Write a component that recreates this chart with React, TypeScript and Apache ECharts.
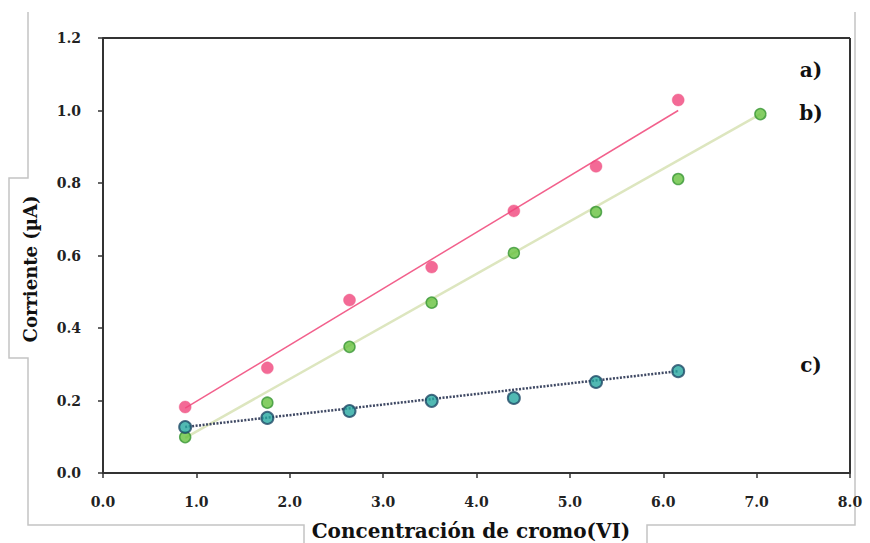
import React, { useEffect, useRef } from "react";
import * as echarts from "echarts";

const xValues = [0.88, 1.76, 2.64, 3.52, 4.4, 5.28, 6.16];
const xValuesB = [0.88, 1.76, 2.64, 3.52, 4.4, 5.28, 6.16, 7.04];
const seriesA = [0.182, 0.29, 0.477, 0.568, 0.723, 0.846, 1.029];
const seriesB = [0.099, 0.194, 0.348, 0.47, 0.607, 0.72, 0.811, 0.99];
const seriesC = [0.127, 0.152, 0.171, 0.199, 0.207, 0.251, 0.281];
// trend line end points
const trendA = [[0.88, 0.179], [6.16, 1.0]];
const trendB = [[0.88, 0.097], [7.04, 0.99]];
const trendC = [[0.88, 0.127], [6.16, 0.281]];
const seriesLabels = ["a)", "b)", "c)"];
const xTitle = "Concentración de cromo(VI)";
const yTitle = "Corriente (µA)";

const FONT = "'DejaVu Serif', serif";

export default function App() {
  const ref = useRef<HTMLDivElement>(null);
  useEffect(() => {
    if (!ref.current) return;
    const chart = echarts.init(ref.current, null, { renderer: "svg" });
    const pair = (xs: number[], ys: number[]) => xs.map((x, i) => [x, ys[i]]);
    const option = {
      animation: false,
      backgroundColor: "#ffffff",
      grid: { left: 103, right: 20, top: 38, bottom: 70, containLabel: false },
      xAxis: {
        type: "value",
        min: 0,
        max: 8,
        interval: 1,
        axisLine: { show: true, onZero: false, lineStyle: { color: "#333", width: 2 } },
        axisTick: { show: true, length: 5, lineStyle: { color: "#333", width: 1.5 } },
        splitLine: { show: false },
        axisLabel: {
          margin: 22,
          color: "#222",
          fontFamily: FONT,
          fontWeight: "bold",
          fontSize: 14,
          formatter: (v: number) => v.toFixed(1),
        },
      },
      yAxis: {
        type: "value",
        min: 0,
        max: 1.2,
        interval: 0.2,
        axisLine: { show: true, onZero: false, lineStyle: { color: "#333", width: 2 } },
        axisTick: { show: true, length: 5, lineStyle: { color: "#333", width: 1.5 } },
        splitLine: { show: false },
        axisLabel: {
          margin: 22,
          color: "#222",
          fontFamily: FONT,
          fontWeight: "bold",
          fontSize: 14,
          formatter: (v: number) => v.toFixed(1),
        },
      },
      graphic: [
        {
          type: "polyline",
          z: -10,
          silent: true,
          shape: { points: [[28, 12], [28, 178], [9, 178], [9, 358], [28, 358], [28, 525], [304, 525], [304, 543]] },
          style: { stroke: "#c4c4c4", lineWidth: 1.5, fill: null },
        },
        {
          type: "polyline",
          z: -10,
          silent: true,
          shape: { points: [[647, 543], [647, 525], [855, 525], [855, 12]] },
          style: { stroke: "#c4c4c4", lineWidth: 1.5, fill: null },
        },
        {
          type: "line",
          z: 5,
          silent: true,
          shape: { x1: 103, y1: 38, x2: 850, y2: 38 },
          style: { stroke: "#333", lineWidth: 2 },
        },
        {
          type: "line",
          z: 5,
          silent: true,
          shape: { x1: 850, y1: 38, x2: 850, y2: 473 },
          style: { stroke: "#333", lineWidth: 2 },
        },
        {
          type: "text",
          x: 30,
          y: 269,
          rotation: Math.PI / 2,
          style: {
            text: yTitle,
            fontFamily: FONT,
            fontWeight: "bold",
            fontSize: 18,
            fill: "#111",
            align: "center",
            verticalAlign: "middle",
          },
        },
        {
          type: "text",
          x: 471,
          y: 531,
          style: {
            text: xTitle,
            fontFamily: FONT,
            fontWeight: "bold",
            fontSize: 20,
            fill: "#111",
            align: "center",
            verticalAlign: "middle",
          },
        },
        ...[
          { t: seriesLabels[0], y: 70 },
          { t: seriesLabels[1], y: 113 },
          { t: seriesLabels[2], y: 365 },
        ].map((l) => ({
          type: "text",
          x: 811,
          y: l.y,
          style: {
            text: l.t,
            fontFamily: FONT,
            fontWeight: "bold",
            fontSize: 20,
            fill: "#111",
            align: "center",
            verticalAlign: "middle",
          },
        })),
      ],
      series: [
        {
          type: "line",
          data: trendA,
          symbol: "none",
          lineStyle: { color: "#f2608c", width: 1.5 },
          z: 2,
        },
        {
          type: "line",
          data: trendB,
          symbol: "none",
          lineStyle: { color: "#dde6bf", width: 2.5 },
          z: 2,
        },
        {
          type: "line",
          data: trendC,
          symbol: "none",
          lineStyle: { color: "#3e4863", width: 2.5, type: [2, 1.5] },
          z: 2,
        },
        {
          type: "scatter",
          data: pair(xValues, seriesA),
          symbol: "circle",
          symbolSize: 12,
          itemStyle: { color: "#f0457c", borderColor: "#ee5c88", borderWidth: 0.5 },
          z: 4,
        },
        {
          type: "scatter",
          data: pair(xValuesB, seriesB),
          symbol: "circle",
          symbolSize: 11,
          itemStyle: { color: "#66c23e", borderColor: "#3a9636", borderWidth: 1.5 },
          z: 4,
        },
        {
          type: "scatter",
          data: pair(xValues, seriesC),
          symbol: "circle",
          symbolSize: 12,
          itemStyle: { color: "#26a8a0", borderColor: "#1e4a66", borderWidth: 2 },
          z: 4,
        },
      ],
    };
    chart.setOption(option as any);
    return () => chart.dispose();
  }, []);
  return <div ref={ref} style={{ width: 870, height: 543, position: "absolute", left: 0, top: 0 }} />;
}
